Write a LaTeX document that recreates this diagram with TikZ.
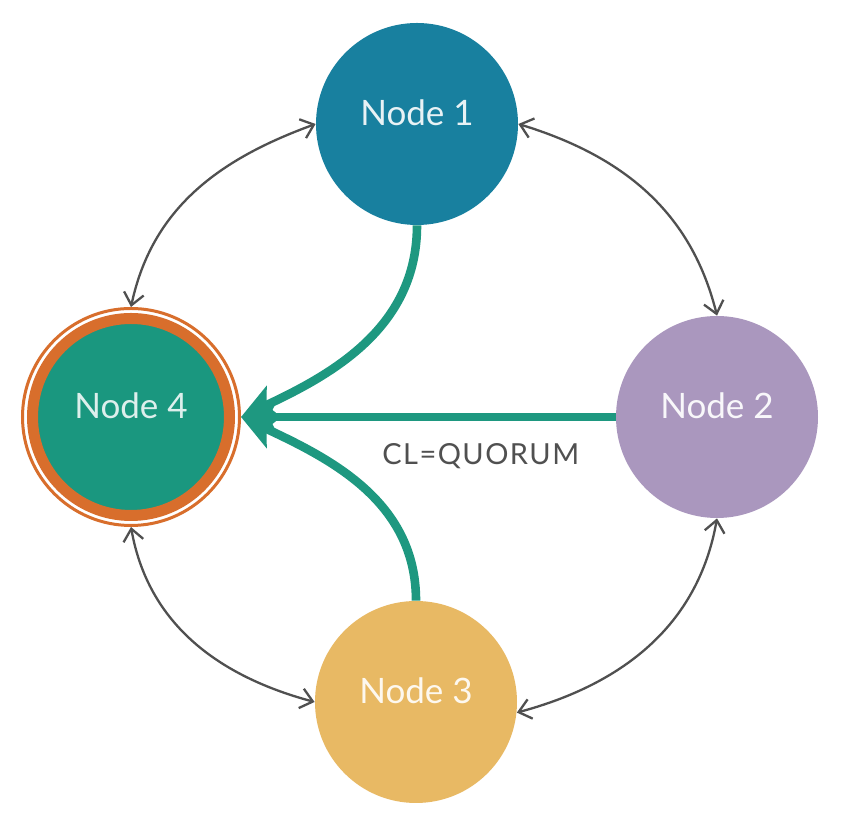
\documentclass[tikz,border=0pt]{standalone}
\usepackage{fontspec}
\setmainfont{Lato}
\usetikzlibrary{arrows.meta}
\definecolor{nodeone}{HTML}{18809F}
\definecolor{nodetwo}{HTML}{AA97BE}
\definecolor{nodethree}{HTML}{E8B964}
\definecolor{nodefour}{HTML}{1A977F}
\definecolor{ringorange}{HTML}{D86E2C}
\definecolor{writegreen}{HTML}{1E9880}
\definecolor{linkgray}{HTML}{505050}
\begin{document}
\begin{tikzpicture}[x=0.5pt,y=0.5pt,
    member/.style={circle, minimum size=101pt, inner sep=0pt, text depth=11pt,
      font=\fontsize{17.5}{21}\selectfont},
    peerlink/.style={line width=1.15pt, color=linkgray,
      {Straight Barb[length=6pt,width=10pt]}-{Straight Barb[length=6pt,width=10pt]}},
    writepath/.style={line width=4.3pt, color=writegreen,
      -{Stealth[length=18pt,width=17pt,inset=4pt]}}]
  \useasboundingbox (0,0) rectangle (842,818);
  \fill[white] (0,0) rectangle (842,818);
  % the four replicas
  \node[member, fill=nodeone, text=nodeone!10!white] (n1) at (417,694) {Node 1};
  \node[member, fill=nodetwo, text=nodetwo!8!white] (n2) at (717,401) {Node 2};
  \node[member, fill=nodethree, text=nodethree!10!white] (n3) at (416,116) {Node 3};
  \node[member, fill=nodefour, draw=ringorange, line width=5.5pt,
    minimum size=98.5pt, text=nodefour!15!white] (n4) at (131,401) {Node 4};
  \node[circle, draw=ringorange, line width=1.5pt, minimum size=108.5pt,
    inner sep=0pt] (n4ring) at (n4) {};
  % ring of peers
  \draw[peerlink] (n4ring.north) to[out=78, in=200] (n1.west);
  \draw[peerlink] (n1.east) to[out=-17, in=104] (n2.north);
  \draw[peerlink] (n2.south) to[out=-100, in=15] (n3.-6);
  \draw[peerlink] (n3.west) to[out=165, in=-80] (n4ring.south);
  % replies to the coordinator
  \draw[writepath] (n1.south) to[out=-90, in=25] (n4ring.east);
  \draw[writepath] (n3.north) to[out=90, in=-25] (n4ring.east);
  \draw[writepath] (n2.west) -- (n4ring.east)
    node[pos=0.36, below=8pt, text=linkgray,
      font=\fontsize{14.5}{17}\selectfont\addfontfeatures{LetterSpace=5}] (cl) {CL=QUORUM};
\end{tikzpicture}
\end{document}
